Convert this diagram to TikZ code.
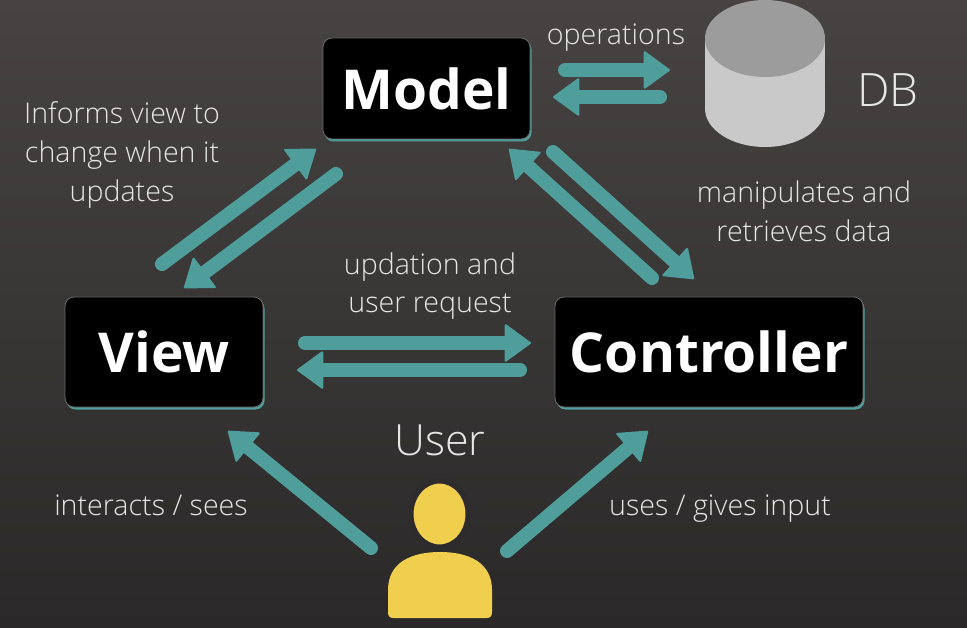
\documentclass[tikz,border=0pt]{standalone}
\usepackage{fontspec}
\setmainfont{Open Sans}
\newfontfamily\lightfont{Open Sans Light}
\usetikzlibrary{arrows.meta,shadows}
\definecolor{bgtop}{HTML}{474343}
\definecolor{bgbot}{HTML}{2A2828}
\definecolor{bgneck}{HTML}{2D2B2B}
\definecolor{tealc}{HTML}{4F9E9C}
\definecolor{txt}{HTML}{E6E6E6}
\definecolor{ylw}{HTML}{F0CE4E}
\definecolor{dbtop}{HTML}{9C9C9C}
\definecolor{dbbody}{HTML}{C9C9C9}
\definecolor{boxedge}{HTML}{6A6A6A}
\begin{document}
\begin{tikzpicture}[x=1pt,y=-1pt,
  mvcbox/.style={fill=black, draw=boxedge, line width=0.8pt, rounded corners=9pt,
    text=white, font=\bfseries\fontsize{55}{60}\selectfont, inner sep=0pt,
    drop shadow={shadow xshift=1.5pt, shadow yshift=-2.5pt, fill=tealc, opacity=1}},
  lbl/.style={text=txt, font=\lightfont\fontsize{28.6}{32}\selectfont, anchor=base, inner sep=0pt},
  arr/.style={draw=tealc, line width=14pt, line cap=round,
    -{Triangle[width=39pt,length=27pt,line width=2pt,round]}}]
\shade[top color=bgtop, bottom color=bgbot] (0,0) rectangle (967,628);
\useasboundingbox (0,0) rectangle (967,628);

% boxes
\node[mvcbox, minimum width=207pt, minimum height=101pt] (model) at (426.5,88.5) {Model};
\node[mvcbox, minimum width=198pt, minimum height=110pt] (view) at (164,352) {View};
\node[mvcbox, minimum width=308pt, minimum height=110pt] (ctrl) at (709,352) {Controller};

% database cylinder
\fill[dbbody] (705,38.5) rectangle (825,108.5);
\fill[dbbody] (765,108.5) ellipse[x radius=60pt, y radius=38.5pt];
\fill[dbtop] (765,38.5) ellipse[x radius=60pt, y radius=38.5pt];
\node[lbl, font=\lightfont\fontsize{46}{50}\selectfont] (dblbl) at (888,107) {DB};

% user icon
\fill[ylw] (388,612) -- (388,590) .. controls (388,562) and (412,552) .. (440,552)
  .. controls (468,552) and (492,562) .. (492,590) -- (492,612)
  .. controls (492,617) and (490,618) .. (486,618) -- (394,618)
  .. controls (390,618) and (388,617) .. (388,612) -- cycle;
\filldraw[fill=ylw, draw=bgneck, line width=5pt] (439.5,514) ellipse[x radius=28.5pt, y radius=33pt];

% labels
\node[lbl] (ops) at (616,45) {operations};
\node[lbl] (inf1) at (122,124) {Informs view to};
\node[lbl] (inf2) at (122,163) {change when it};
\node[lbl] (inf3) at (122,202) {updates};
\node[lbl] (man1) at (804,203) {manipulates and};
\node[lbl] (man2) at (804,242) {retrieves data};
\node[lbl] (upd1) at (430,275) {updation and};
\node[lbl] (upd2) at (430,313) {user request};
\node[lbl, font=\lightfont\fontsize{43}{48}\selectfont] (userlbl) at (440,455) {User};
\node[lbl] (inter) at (151,515) {interacts / sees};
\node[lbl] (uses) at (720,515) {uses / gives input};

% arrow end points
\coordinate (o1s) at (565,70);   \coordinate (o1e) at (670,70);
\coordinate (o2s) at (660,97);   \coordinate (o2e) at (553,97);
\coordinate (h1s) at (305,343);  \coordinate (h1e) at (531,343);
\coordinate (h2s) at (520,370);  \coordinate (h2e) at (297,370);
\coordinate (vm1s) at (162,264); \coordinate (vm1e) at (316,149);
\coordinate (vm2s) at (336,174); \coordinate (vm2e) at (184,288);
\coordinate (mc1s) at (652,278); \coordinate (mc1e) at (509,149);
\coordinate (mc2s) at (553,152); \coordinate (mc2e) at (694,279);
\coordinate (u1s) at (371,548);  \coordinate (u1e) at (228,431);
\coordinate (u2s) at (507,551);  \coordinate (u2e) at (648,431);

\draw[arr] (o1s) -- (o1e);
\draw[arr] (o2s) -- (o2e);
\draw[arr] (h1s) -- (h1e);
\draw[arr] (h2s) -- (h2e);
\draw[arr] (vm1s) -- (vm1e);
\draw[arr] (vm2s) -- (vm2e);
\draw[arr] (mc1s) -- (mc1e);
\draw[arr] (mc2s) -- (mc2e);
\draw[arr] (u1s) -- (u1e);
\draw[arr] (u2s) -- (u2e);
\end{tikzpicture}
\end{document}
